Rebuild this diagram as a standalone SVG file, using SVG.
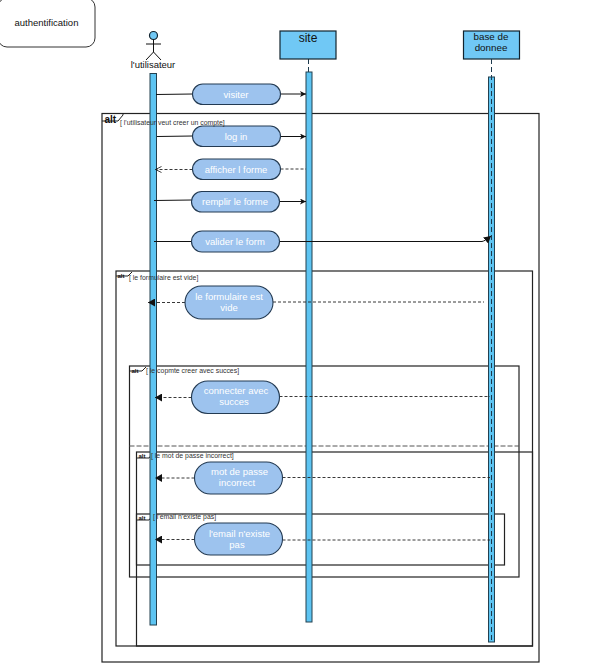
<svg xmlns="http://www.w3.org/2000/svg" width="612" height="672" viewBox="0 0 612 672">
<style>
text{font-family:"Liberation Sans",Arial,sans-serif;fill:#111}
.frame{fill:none;stroke:#222;stroke-width:1.2}
.tab{fill:none;stroke:#222;stroke-width:1}
.guard{font-size:6.9px;fill:#333}
.altb{font-size:10px;font-weight:bold}
.alts{font-size:6px;font-weight:bold}
.act{fill:#5DC4F2;stroke:#23404f;stroke-width:1}
.head{fill:#70C8F5;stroke:#12232e;stroke-width:1.2}
.pill{fill:#9DC3EE;stroke:#233a52;stroke-width:1.1}
.pt{fill:#fff;font-size:9.500px;text-anchor:middle}
.c{fill:none;stroke:#111;stroke-width:1}
.d{fill:none;stroke:#222;stroke-width:.9;stroke-dasharray:3 2}
.life{fill:none;stroke:#1d3a4d;stroke-width:1;stroke-dasharray:5 3}
</style>
<defs>
<marker id="open" markerWidth="8" markerHeight="8" refX="6" refY="3" orient="auto" markerUnits="userSpaceOnUse"><path d="M0 0L6 3L0 6L1.500 3Z" fill="#111"/></marker>
<marker id="fill" markerWidth="8" markerHeight="8" refX="7" refY="4" orient="auto" markerUnits="userSpaceOnUse"><path d="M0 0L7 4L0 8Z" fill="#111"/></marker>
<marker id="thin" markerWidth="8" markerHeight="8" refX="6" refY="3" orient="auto" markerUnits="userSpaceOnUse"><path d="M0 0L6 3L0 6" fill="none" stroke="#111" stroke-width=".8"/></marker>
</defs>

<g id="frames">
<rect class="frame" x="102" y="113.500" width="437" height="548.500"/>
<path class="tab" d="M102 121H118L123 115V113.500"/>
<rect class="frame" x="116" y="271" width="416.500" height="375"/>
<path class="tab" d="M116 276H128L132 272"/>
<rect class="frame" x="129.500" y="366" width="389.500" height="211"/>
<path class="tab" d="M129.500 371H142L146 367"/>
<path d="M129.500 446H519" fill="none" stroke="#555" stroke-width="1" stroke-dasharray="5 2"/>
<rect class="frame" x="136.500" y="452" width="396" height="194"/>
<path class="tab" d="M136.500 458H149L153 453"/>
<rect class="frame" x="136.500" y="514" width="368" height="51"/>
<path class="tab" d="M136.500 520H149L153 515"/>
</g>

<g id="authentification">
<rect x="-2" y="-2" width="97" height="49" rx="9" fill="#fff" stroke="#333" stroke-width="1"/>
<text x="46.500" y="26" font-size="9.500" text-anchor="middle">authentification</text>
</g>

<g id="utilisateur">
<circle cx="153.500" cy="35.500" r="4" class="head"/>
<path class="c" d="M153.500 39.500V52M146 44H161M146 60L153.500 52L161 60"/>
<text x="153" y="68" font-size="9.500" text-anchor="middle">l'utilisateur</text>
<rect class="act" x="150" y="73.500" width="6.500" height="551.500"/>
</g>

<g id="site">
<path class="life" d="M308.500 59V72"/>
<rect class="head" x="280" y="31" width="56" height="28"/>
<text x="308" y="42" font-size="12" text-anchor="middle">site</text>
<rect class="act" x="306" y="72" width="6" height="550"/>
</g>

<g id="base-de-donnee">
<rect class="head" x="463.500" y="31" width="56" height="28"/>
<text x="491" y="40" font-size="9.800" text-anchor="middle">base de</text>
<text x="491" y="51" font-size="9.800" text-anchor="middle">donnee</text>
<rect class="act" x="488.500" y="77" width="6" height="565"/>
<path class="life" d="M491.500 59V642"/>
</g>

<g id="connectors">
<path class="c" d="M156 94.500L192.500 94"/><path class="c" marker-end="url(#open)" d="M280.500 94H306"/>
<path class="c" d="M157 136.500L192.500 136"/><path class="c" marker-end="url(#open)" d="M280.500 136.500H306"/>
<path class="d" marker-end="url(#thin)" d="M192.500 169.500H155.500"/><path class="d" d="M280.500 169H306"/>
<path class="c" d="M154 200.500L191.500 200"/><path class="c" marker-end="url(#open)" d="M279.500 201.500H306"/>
<path class="c" d="M154 241.500H191.500"/><path class="c" marker-end="url(#fill)" d="M279.500 241.500H482Q485 241 491 236"/>
<path class="d" marker-end="url(#fill)" d="M185 302.500H148"/><path class="d" d="M273 302H484"/>
<path class="d" marker-end="url(#fill)" d="M191.500 397.500H155"/><path class="d" d="M279.500 396.500H490"/>
<path class="d" marker-end="url(#fill)" d="M194.500 478H155"/><path class="d" d="M282.500 477.500H490"/>
<path class="d" marker-end="url(#fill)" d="M194.500 539.500H155"/><path class="d" d="M282.500 540H490"/>
</g>

<g id="msg-visiter"><rect class="pill" x="192.500" y="84" width="88" height="20.500" rx="10.250"/><text class="pt" x="236" y="97.500">visiter</text></g>
<g id="msg-login"><rect class="pill" x="192.500" y="126" width="88" height="20.500" rx="10.250"/><text class="pt" x="236" y="139.500">log in</text></g>
<g id="msg-afficher"><rect class="pill" x="192.500" y="159" width="88" height="20.500" rx="10.250"/><text class="pt" x="236" y="172.500">afficher l forme</text></g>
<g id="msg-remplir"><rect class="pill" x="191.500" y="191.500" width="88" height="20.500" rx="10.250"/><text class="pt" x="235" y="205">remplir le forme</text></g>
<g id="msg-valider"><rect class="pill" x="191.500" y="231" width="88" height="21" rx="10.500"/><text class="pt" x="235" y="245">valider le form</text></g>
<g id="msg-vide"><rect class="pill" x="185" y="286" width="88" height="33" rx="16.500"/><text class="pt" x="229" y="300">le formulaire est</text><text class="pt" x="229" y="311">vide</text></g>
<g id="msg-connecter"><rect class="pill" x="191.500" y="381" width="88" height="32.500" rx="16.250"/><text class="pt" x="236" y="394">connecter avec</text><text class="pt" x="234" y="405">succes</text></g>
<g id="msg-mot"><rect class="pill" x="194.500" y="462" width="88" height="32" rx="16"/><text class="pt" x="239.500" y="475">mot de passe</text><text class="pt" x="237" y="486">incorrect</text></g>
<g id="msg-email"><rect class="pill" x="194.500" y="523" width="88" height="32" rx="16"/><text class="pt" x="239.500" y="537">l'email n'existe</text><text class="pt" x="237" y="548">pas</text></g>

<g id="frame-labels">
<text class="altb" x="104.500" y="123">alt</text><text class="guard" x="120" y="125">[ l'utilisateur veut creer un compte]</text>
<text class="alts" x="117.500" y="278">alt</text><text class="guard" x="129" y="279.500">[ le formulaire est vide]</text>
<text class="alts" x="131.500" y="373">alt</text><text class="guard" x="146" y="373">[ le copmte creer avec succes]</text>
<text class="alts" x="138.500" y="458">alt</text><text class="guard" x="151" y="458">[ le mot de passe incorrect]</text>
<text class="alts" x="138.500" y="520">alt</text><text class="guard" x="153" y="519">[ l'email n'existe pas]</text>
</g>
</svg>
